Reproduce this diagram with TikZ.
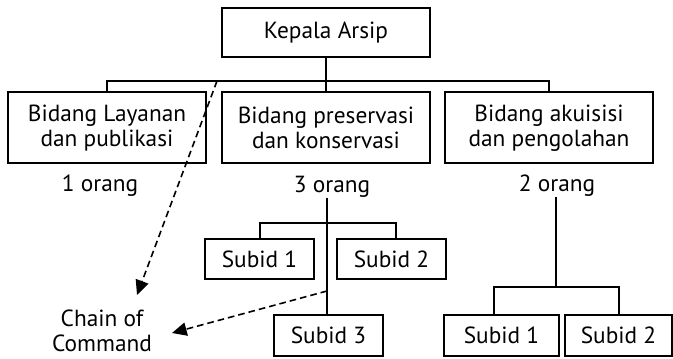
\documentclass[tikz,border=0pt]{standalone}
\usepackage{fontspec}
\setmainfont{PT Sans}
\usetikzlibrary{positioning, arrows.meta}
\tikzset{
  unitbox/.style  = {draw, line width=1.5pt, inner sep=0pt, align=center, minimum height=53.25pt},
  subbox/.style   = {draw, line width=1.5pt, inner sep=0pt, align=center, minimum height=30pt},
  count/.style    = {inner sep=0pt},
  link/.style     = {line width=1.5pt},
  chain/.style    = {line width=1.2pt, dash pattern=on 5pt off 3pt, -{Triangle[length=11pt, width=10pt]}}
}

\begin{document}
\begin{tikzpicture}[x=0.75pt, y=-0.75pt, font=\fontsize{17.5}{19}\selectfont]
  \useasboundingbox (0,0) rectangle (673,359);
  \node[unitbox, minimum width=156pt, minimum height=36.75pt] (kepala) at (326,33) {Kepala Arsip};
  \node[unitbox, minimum width=148.5pt] (bid1) at (107,128) {Bidang Layanan\\dan publikasi};
  \node[unitbox, minimum width=156pt]   (bid2) at (326,128) {Bidang preservasi\\dan konservasi};
  \node[unitbox, minimum width=156pt]   (bid3) at (549,128) {Bidang akuisisi\\dan pengolahan};
  \node[count] (org1) at (100,186) {1 orang};
  \node[count] (org2) at (332,187) {3 orang};
  \node[count] (org3) at (557,186) {2 orang};
  \node[subbox, minimum width=81.75pt] (sa1) at (259.5,259) {Subid 1};
  \node[subbox, minimum width=81.75pt] (sa2) at (391.5,259) {Subid 2};
  \node[subbox, minimum width=81.75pt, minimum height=30.75pt] (sa3) at (328.5,335.5) {Subid 3};
  \node[subbox, minimum width=86.25pt, minimum height=30.75pt] (sb1) at (501.5,335.5) {Subid 1};
  \node[subbox, minimum width=80.25pt, minimum height=30.75pt] (sb2) at (618.5,335.5) {Subid 2};
  \node[align=center, inner sep=0pt] (chain) at (102,331) {Chain of\\Command};

  % top level
  \coordinate (bus) at (326,81);
  \draw[link] (kepala) -- (bus);
  \draw[link] (bid1.north) |- (bus) -| (bid3.north);
  \draw[link] (bus) -- (bid2.north);

  % preservasi
  \coordinate (ja) at (327,223);
  \draw[link] (ja |- org2.south) -- (ja |- sa3.north);
  \draw[link] (sa1.north) |- (ja) -| ([xshift=3.5pt]sa2.north);

  % akuisisi
  \coordinate (jb) at (556,287);
  \draw[link] (jb |- org3.south) -- (jb);
  \draw[link] ([xshift=-5.5pt]sb1.north) |- (jb) -| (sb2.north);

  % chain of command
  \coordinate (c1) at (217,81);
  \coordinate (c1e) at (137,295);
  \coordinate (c2) at (327,291);
  \coordinate (c2e) at (172,333);
  \draw[chain] (c1) -- (c1e);
  \draw[chain] (c2) -- (c2e);
\end{tikzpicture}
\end{document}
